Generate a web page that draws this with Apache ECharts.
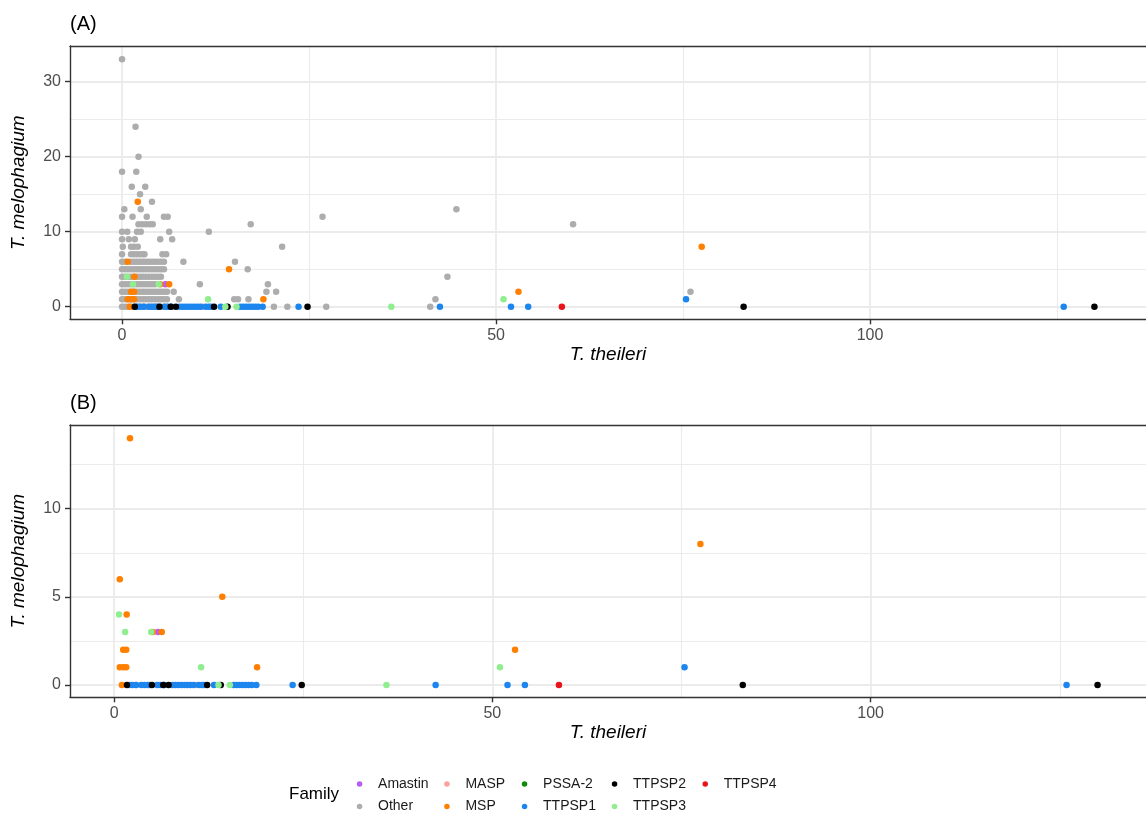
<!DOCTYPE html>
<html><head><meta charset="utf-8">
<script src="https://cdn.jsdelivr.net/npm/echarts@6/dist/echarts.min.js"></script>
<style>html,body{margin:0;padding:0;background:#fff;}#c{width:1146px;height:816px;}</style>
</head><body><div id="c"></div>
<script>
// ---- tick values ----
const xTicks = [0, 50, 100];
const xMinor = [25, 75, 125];
const yTicksA = [0, 10, 20, 30];
const yMinorA = [5, 15, 25];
const yTicksB = [0, 5, 10];
const yMinorB = [2.5, 7.5, 12.5];

// ---- categories ----
const families = ['Amastin', 'Other', 'MASP', 'MSP', 'PSSA-2', 'TTPSP1', 'TTPSP2', 'TTPSP3', 'TTPSP4'];
const familyColors = ['#B85CF5', '#ADADAD', '#F7A1A1', '#FF7F00', '#0F8A0F', '#1C86EE', '#000000', '#90EE90', '#E8141A'];

// ---- data: [T. theileri, T. melophagium] ----
const other = [
  [0,0],[0.4,0],[0.8,0],[1.2,0],[1.6,0],[2.0,0],[2.4,0],[2.8,0],[3.2,0],[3.6,0],[4.0,0],[4.4,0],[4.8,0],[5.2,0],[5.6,0],[6.0,0],[20.3,0],[22.1,0],[27.3,0],[41.2,0],
  [0,1],[0.4,1],[0.8,1],[1.2,1],[1.6,1],[2.0,1],[2.4,1],[2.8,1],[3.2,1],[3.6,1],[4.0,1],[4.4,1],[4.8,1],[5.2,1],[5.6,1],[6.0,1],[7.6,1],[15.0,1],[15.5,1],[16.9,1],[41.9,1],
  [0,2],[0.4,2],[0.8,2],[1.2,2],[1.6,2],[2.0,2],[2.4,2],[2.8,2],[3.2,2],[3.6,2],[4.0,2],[4.4,2],[4.8,2],[5.2,2],[5.6,2],[6.0,2],[6.9,2],[19.3,2],[20.6,2],[76.0,2],
  [0,3],[0.4,3],[0.8,3],[1.2,3],[1.6,3],[2.0,3],[2.4,3],[2.8,3],[3.2,3],[3.6,3],[4.0,3],[4.4,3],[10.4,3],[19.5,3],
  [0,4],[0.4,4],[0.8,4],[1.2,4],[1.6,4],[2.0,4],[2.4,4],[2.8,4],[3.2,4],[3.6,4],[4.0,4],[4.4,4],[4.8,4],[5.2,4],[43.5,4],
  [0,5],[0.4,5],[0.8,5],[1.2,5],[1.6,5],[2.0,5],[2.4,5],[2.8,5],[3.2,5],[3.6,5],[4.0,5],[4.4,5],[4.8,5],[5.2,5],[5.6,5],[16.8,5],
  [0,6],[0.4,6],[1.2,6],[1.6,6],[2.0,6],[2.4,6],[2.8,6],[3.2,6],[3.6,6],[4.0,6],[4.4,6],[4.8,6],[5.2,6],[5.6,6],[8.2,6],[15.1,6],
  [0,7],[1.2,7],[1.6,7],[2.0,7],[2.4,7],[2.8,7],[3.0,7],[5.4,7],[5.9,7],
  [0.1,8],[1.2,8],[1.6,8],[2.1,8],[21.4,8],
  [0,9],[0.9,9],[1.7,9],[5.1,9],[6.7,9],
  [0,10],[0.7,10],[2.0,10],[2.5,10],[6.3,10],[11.6,10],
  [2.2,11],[2.7,11],[3.2,11],[3.7,11],[4.1,11],[17.2,11],[60.3,11],
  [0,12],[1.4,12],[3.3,12],[5.6,12],[6.1,12],[26.8,12],
  [0.3,13],[2.5,13],[44.7,13],
  [4.0,14],[2.4,15],[1.3,16],[3.1,16],[0,18],[1.9,18],[2.2,20],[1.8,24],[0,33]
];
const amastin = [[5.8,3]];
const masp = [[2.9,0],[10.8,0]];
const msp = [[2.1,14],[0.75,6],[1.66,4],[5.1,3],[6.3,3],[1.2,2],[1.6,2],[0.75,1],[1.2,1],[1.6,1],[14.3,5],[18.9,1],[53.0,2],[77.5,8],[1.03,0]];
const pssa2 = [];
const ttpsp1 = [[2.0,0],[2.4,0],[2.9,0],[3.6,0],[4.0,0],[4.4,0],[4.7,0],[5.7,0],[6.1,0],[6.6,0],[7.7,0],[8.1,0],[8.5,0],[8.9,0],[9.3,0],[9.7,0],[10.1,0],[10.5,0],[11.2,0],[11.6,0],[11.9,0],[13.2,0],[15.8,0],[16.2,0],[16.6,0],[17.0,0],[17.4,0],[17.8,0],[18.2,0],[18.8,0],[23.6,0],[42.5,0],[52.0,0],[54.3,0],[125.9,0],[75.4,1]];
const ttpsp2 = [[1.7,0],[5.0,0],[6.5,0],[7.2,0],[12.3,0],[14.1,0],[24.8,0],[83.1,0],[130.0,0]];
const ttpsp3 = [[0.65,4],[1.46,3],[4.9,3],[11.5,1],[13.8,0],[15.3,0],[36.0,0],[51.0,1]];
const ttpsp4 = [[58.8,0]];
const familyData = [amastin, other, masp, msp, pssa2, ttpsp1, ttpsp2, ttpsp3, ttpsp4];

// ---- styling / layout ----
const FONT = 'Liberation Sans, Arial, sans-serif';
const BORDER = '#333333';
const GRID_COL = '#EBEBEB';

function mainX(grid, min, max) {
  return {
    type: 'value', gridIndex: grid, position: 'bottom', min: min, max: max,
    name: 'T. theileri', nameLocation: 'middle', nameGap: 26,
    nameTextStyle: { fontStyle: 'italic', fontSize: 19, color: '#000', fontFamily: FONT },
    axisLine: { show: true, onZero: false, lineStyle: { color: BORDER, width: 1.4 } },
    axisTick: { show: true, length: 5, customValues: xTicks, lineStyle: { color: BORDER, width: 1.4 } },
    axisLabel: { customValues: xTicks, fontSize: 16, color: '#4D4D4D', margin: 8, fontFamily: FONT },
    splitLine: { show: true, lineStyle: { color: GRID_COL, width: 1.8 } }
  };
}
function minorX(grid, min, max) {
  return {
    type: 'value', gridIndex: grid, position: 'top', min: min, max: max,
    axisLine: { show: true, onZero: false, lineStyle: { color: BORDER, width: 1.4 } },
    axisTick: { show: false, customValues: xMinor },
    axisLabel: { show: false },
    splitLine: { show: true, lineStyle: { color: GRID_COL, width: 1.1 } }
  };
}
function mainY(grid, min, max, ticks) {
  return {
    type: 'value', gridIndex: grid, position: 'left', min: min, max: max,
    name: 'T. melophagium', nameLocation: 'middle', nameGap: 42, nameRotate: 90,
    nameTextStyle: { fontStyle: 'italic', fontSize: 19, color: '#000', fontFamily: FONT },
    axisLine: { show: true, onZero: false, lineStyle: { color: BORDER, width: 1.4 } },
    axisTick: { show: true, length: 5, customValues: ticks, lineStyle: { color: BORDER, width: 1.4 } },
    axisLabel: { customValues: ticks, fontSize: 16, color: '#4D4D4D', margin: 9, fontFamily: FONT },
    splitLine: { show: true, lineStyle: { color: GRID_COL, width: 1.8 } }
  };
}
function minorY(grid, min, max, ticks) {
  return {
    type: 'value', gridIndex: grid, position: 'right', min: min, max: max,
    axisLine: { show: false, onZero: false },
    axisTick: { show: false, customValues: ticks },
    axisLabel: { show: false },
    splitLine: { show: true, lineStyle: { color: GRID_COL, width: 1.1 } }
  };
}

const series = [];
families.forEach((f, i) => {
  series.push({
    name: f, type: 'scatter', xAxisIndex: 0, yAxisIndex: 0,
    data: familyData[i], symbolSize: 6.5, itemStyle: { color: familyColors[i], opacity: 1 },
    z: f === 'Other' ? 2 : 3, silent: true
  });
});
families.forEach((f, i) => {
  if (f === 'Other') return;
  series.push({
    name: f, type: 'scatter', xAxisIndex: 2, yAxisIndex: 2,
    data: familyData[i], symbolSize: 6.5, itemStyle: { color: familyColors[i], opacity: 1 },
    z: 3, silent: true
  });
});

const legendCols = [356.8, 444.2, 521.8, 611.8, 702.5];
const legendRows = [777, 799.5];
const legends = families.map((f, i) => ({
  data: [f], left: legendCols[Math.floor(i / 2)], top: legendRows[i % 2],
  icon: 'circle', itemWidth: 27, itemHeight: 5.5, padding: 0, selectedMode: false,
  itemStyle: { opacity: 1 },
  textStyle: { fontSize: 14, color: '#1A1A1A', fontFamily: FONT }
}));

const chart = echarts.init(document.getElementById('c'), null, { renderer: 'canvas' });
chart.setOption({
  animation: false,
  backgroundColor: '#fff',
  grid: [
    { left: 70, top: 46, width: 1086, height: 273.3 },
    { left: 70, top: 425, width: 1086, height: 272.3 }
  ],
  xAxis: [mainX(0, -6.96, 136.9), minorX(0, -6.96, 136.9), mainX(1, -5.83, 136.4), minorX(1, -5.83, 136.4)],
  yAxis: [mainY(0, -1.68, 34.76, yTicksA), minorY(0, -1.68, 34.76, yMinorA), mainY(1, -0.70, 14.75, yTicksB), minorY(1, -0.70, 14.75, yMinorB)],
  legend: legends,
  graphic: [
    { type: 'text', left: 70, top: 14.5, style: { text: '(A)', fontSize: 20, fill: '#000', fontFamily: FONT } },
    { type: 'text', left: 70, top: 393.5, style: { text: '(B)', fontSize: 20, fill: '#000', fontFamily: FONT } },
    { type: 'text', left: 289, top: 786, style: { text: 'Family', fontSize: 17, fill: '#000', fontFamily: FONT } }
  ],
  series: series
});
</script></body></html>
